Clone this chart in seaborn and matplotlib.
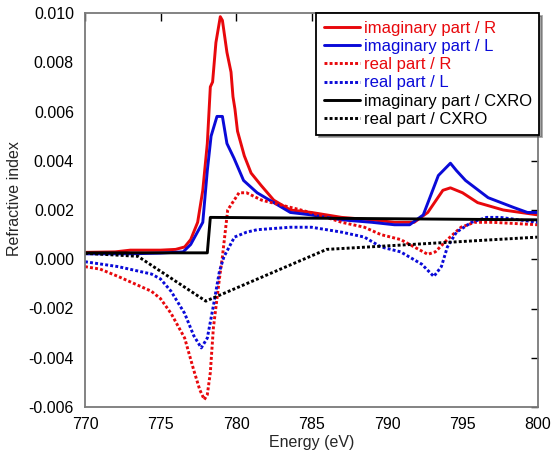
import matplotlib
matplotlib.use("Agg")
import matplotlib.pyplot as plt
import seaborn as sns
import numpy as np

# ---- data ----
imagR_x = [770, 772, 773, 775, 776, 776.6, 777.0, 777.46, 777.8, 778.1, 778.3, 778.45, 778.67,
           778.96, 779.1, 779.4, 779.67, 779.8, 779.93, 780.1, 780.55, 781.0, 781.66, 782.5,
           783.6, 785, 787, 789, 790.5, 791.8, 792.7, 793.7, 794.2, 795, 796, 797.7, 800]
imagR_y = [0.00028, 0.0003, 0.00037, 0.00037, 0.0004, 0.0005, 0.0008, 0.0015, 0.0028, 0.0047,
           0.0070, 0.0072, 0.0088, 0.00985, 0.0097, 0.0084, 0.0076, 0.0066, 0.0061, 0.0052,
           0.0042, 0.0035, 0.0030, 0.0024, 0.0020, 0.0019, 0.0017, 0.0016, 0.0015, 0.0015,
           0.0019, 0.0028, 0.0029, 0.0027, 0.0023, 0.0020, 0.0018]

imagL_x = [770, 773, 775, 776.5, 777.0, 777.8, 778.1, 778.35, 778.74, 779.1, 779.4, 779.87,
           780.5, 781.4, 782.5, 783.6, 785, 787, 789, 790.5, 791.5, 792.4, 793.4, 794.2, 794.6,
           795.2, 796.7, 798.4, 799.3, 800]
imagL_y = [0.00022, 0.00022, 0.00025, 0.0003, 0.0006, 0.0015, 0.0036, 0.0050, 0.0058, 0.0058,
           0.0047, 0.0041, 0.0032, 0.0027, 0.0023, 0.0019, 0.0018, 0.0016, 0.0015, 0.0014,
           0.0014, 0.0018, 0.0034, 0.0039, 0.0036, 0.0032, 0.0025, 0.0021, 0.0019, 0.0019]

realR_x = [770, 771, 772.2, 773.3, 774.4, 775, 775.7, 776.6, 777.2, 777.6, 777.9, 778.1, 778.3,
           778.5, 778.7, 778.9, 779.1, 779.45, 780.2, 780.7, 781.7, 783, 784.3, 785.5, 787,
           788.5, 789.6, 790.9, 791.8, 792.7, 793.2, 794, 794.9, 795.8, 797, 800]
realR_y = [-0.0003, -0.0004, -0.0007, -0.001, -0.0013, -0.0016, -0.0022, -0.0032, -0.0045,
           -0.0053, -0.0057, -0.0055, -0.0046, -0.0028, -0.0018, -0.0008, 0.0001, 0.0020,
           0.0027, 0.0027, 0.0024, 0.0022, 0.0020, 0.0018, 0.0015, 0.0013, 0.0010, 0.0008,
           0.0005, 0.0002, 0.0003, 0.0008, 0.0013, 0.0015, 0.0015, 0.0014]

realL_x = [770, 772.2, 774.4, 775, 775.7, 776.6, 777.2, 777.7, 778.1, 778.5, 778.9, 779.2,
           779.9, 780.7, 781.4, 783.6, 785, 787, 788.5, 789.6, 790.9, 792.3, 793.1, 793.6,
           794, 794.6, 795.6, 796.6, 797.5, 800]
realL_y = [-0.0001, -0.0003, -0.0006, -0.0008, -0.0013, -0.0022, -0.0031, -0.0036, -0.0032,
           -0.0019, -0.0005, 0.0001, 0.0009, 0.0011, 0.0012, 0.0013, 0.0013, 0.0011, 0.0009,
           0.0005, 0.0003, -0.0002, -0.0007, -0.0003, 0.0005, 0.0011, 0.0015, 0.0017, 0.0017,
           0.0015]

cxroI_x = [770, 778.1, 778.3, 800]
cxroI_y = [0.00026, 0.00026, 0.0017, 0.0016]

cxroR_x = [770, 773.5, 778.0, 786.0, 800]
cxroR_y = [0.00024, 0.00012, -0.0017, 0.0004, 0.0009]

labels = ["imaginary part / R", "imaginary part / L", "real part / R", "real part / L",
          "imaginary part / CXRO", "real part / CXRO"]
x_ticks = [770, 775, 780, 785, 790, 795, 800]
y_ticks = [-0.006, -0.004, -0.002, 0.000, 0.002, 0.004, 0.006, 0.008, 0.010]

# ---- plot ----
sns.set_style("white")
plt.rcParams['font.family'] = ['Liberation Sans', 'DejaVu Sans']

fig = plt.figure(figsize=(5.52, 4.53), dpi=100)
ax = fig.add_axes([85/552, 1-407/453, (538-85)/552, (407-13)/453])

RED = "#e8080c"
BLUE = "#0a0ad8"
dot = (1.0, 0.75)
series = [
    (imagR_x, imagR_y, RED, None),
    (imagL_x, imagL_y, BLUE, None),
    (realR_x, realR_y, RED, dot),
    (realL_x, realL_y, BLUE, dot),
    (cxroI_x, cxroI_y, "black", None),
    (cxroR_x, cxroR_y, "black", dot),
]
handles = []
for (xs, ys, c, d), lab in zip(series, labels):
    sns.lineplot(x=xs, y=ys, color=c, lw=2.1, ax=ax, estimator=None, label=lab)
    ln = ax.lines[-1]
    if d is not None:
        ln.set_dashes(d)
    handles.append(ln)

ax.set_xlim(770, 800)
ax.set_ylim(-0.006, 0.010)
ax.set_xticks(x_ticks)
ax.set_yticks(y_ticks)
ax.set_xticklabels([str(t) for t in x_ticks])
ax.set_yticklabels([f"{t:.3f}" for t in y_ticks])
ax.tick_params(axis="x", direction="in", length=6, width=1, top=True, pad=7,
               labelsize=11.5, colors="black")
ax.tick_params(axis="y", direction="out", length=5, width=1, right=True,
               labelsize=11.5, colors="black", pad=3)
# left ticks point outward, right ticks inward
for t in ax.yaxis.get_major_ticks():
    t.tick2line.set_marker(matplotlib.lines.TICKLEFT)
for s in ax.spines.values():
    s.set_color("#7a7a7a")
    s.set_linewidth(1.3)
ax.set_xlabel("Energy (eV)", fontsize=11.5, labelpad=2)
ax.set_ylabel("Refractive index", fontsize=11.5)
ax.yaxis.set_label_coords(-0.139, 0.53)

leg = ax.legend(handles=handles, labels=labels, loc="upper right",
                bbox_to_anchor=(1.003, 1.0), borderaxespad=0, fontsize=12,
                frameon=True, fancybox=False, shadow=True, edgecolor="black",
                labelcolor="linecolor", handlelength=2.2, handletextpad=0.2,
                labelspacing=0.2, borderpad=0.45)
leg.get_frame().set_linewidth(1.3)

fig.savefig("out.png", dpi=100)
